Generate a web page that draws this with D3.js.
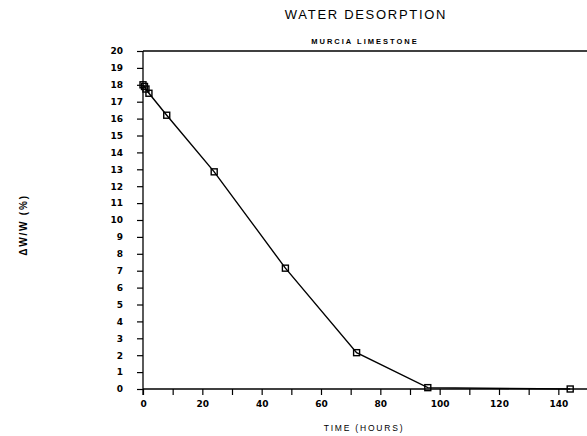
<!DOCTYPE html>
<html><head><meta charset="utf-8">
<script src="https://cdn.jsdelivr.net/npm/d3@7"></script>
<style>body{margin:0;background:#fff}svg{display:block}text{fill:#000}</style>
</head><body>
<svg id="c" width="587" height="436"></svg>
<script>
const hours = [0, 0.5, 1, 2, 8, 24, 48, 72, 96, 144];
const waterLoss = [18.0, 17.9, 17.75, 17.5, 16.2, 12.85, 7.15, 2.15, 0.08, 0.0];
const xTickLabels = [0, 20, 40, 60, 80, 100, 120, 140];
const yTickLabels = d3.range(0, 21);
const title = "WATER DESORPTION";
const subtitle = "MURCIA LIMESTONE";
const xLabel = "TIME (HOURS)";
const yLabel = "\u0394W/W (%)";

const svg = d3.select("#c");
const x = d3.scaleLinear().domain([0, 150]).range([143, 588]);
const y = d3.scaleLinear().domain([0, 20]).range([389, 51]);
const font = "'Liberation Sans', Arial, sans-serif";
const tickFont = "'DejaVu Sans', sans-serif";

// top border
svg.append("line").attr("x1", 143).attr("x2", 587).attr("y1", y(20)).attr("y2", y(20))
  .attr("stroke", "#000").attr("stroke-width", 1.3);

// y axis
const yAxis = d3.axisLeft(y).tickValues(yTickLabels).tickSize(6).tickPadding(14).tickFormat(d3.format("d"));
const gy = svg.append("g").attr("transform", `translate(${x(0)},0)`).call(yAxis);
gy.select(".domain").attr("stroke-width", 1.3).attr("d", `M0,${y(0)+6}V${y(20)}`);
gy.selectAll(".tick line").attr("stroke-width", 1.2);
gy.selectAll("text").attr("font-family", tickFont).attr("font-weight", "bold").attr("font-size", 9);

// x axis minor ticks every 10
const xAxis = d3.axisBottom(x).tickValues(d3.range(0, 150, 10)).tickSize(6).tickPadding(6)
  .tickFormat(d => xTickLabels.includes(d) ? d : "");
const gx = svg.append("g").attr("transform", `translate(0,${y(0)})`).call(xAxis);
gx.select(".domain").attr("stroke-width", 1.3).attr("d", `M${x(0)},0H587`);
gx.selectAll(".tick line").attr("stroke-width", 1.2);
gx.selectAll("text").attr("font-family", tickFont).attr("font-weight", "bold").attr("font-size", 9);

// line
const line = d3.line().x((d, i) => x(hours[i])).y(d => y(d));
svg.append("path").datum(waterLoss).attr("d", line).attr("fill", "none")
  .attr("stroke", "#000").attr("stroke-width", 1.4);

// markers
svg.selectAll("rect.m").data(waterLoss).join("rect").attr("class", "m")
  .attr("x", (d, i) => x(hours[i]) - 3).attr("y", d => y(d) - 3)
  .attr("width", 6).attr("height", 6).attr("fill", "none")
  .attr("stroke", "#000").attr("stroke-width", 1.4);

// titles
svg.append("text").attr("x", 366).attr("y", 19).attr("text-anchor", "middle")
  .attr("font-family", font).attr("font-size", 13).attr("letter-spacing", 1.7).text(title);
svg.append("text").attr("x", 365).attr("y", 44).attr("text-anchor", "middle")
  .attr("font-family", font).attr("font-size", 7.5).attr("font-weight", "bold").attr("letter-spacing", 2).text(subtitle);
svg.append("text").attr("x", 364).attr("y", 431).attr("text-anchor", "middle")
  .attr("font-family", font).attr("font-size", 8.5).attr("letter-spacing", 1.8).text(xLabel);
svg.append("text").attr("transform", "translate(27,225) rotate(-90)").attr("text-anchor", "middle")
  .attr("font-family", font).attr("font-size", 10).attr("font-weight", "bold").attr("letter-spacing", 1.8).text(yLabel);
</script>
</body></html>
